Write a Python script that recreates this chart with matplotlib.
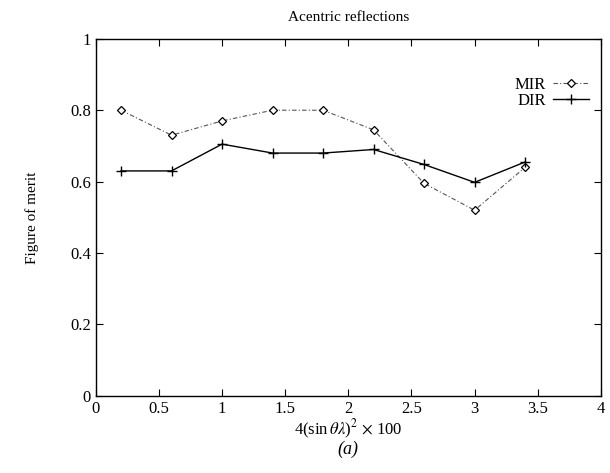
import numpy as np
import matplotlib.pyplot as plt

plt.rcParams['font.family'] = ['Liberation Serif', 'DejaVu Serif']
plt.rcParams['mathtext.fontset'] = 'stix'

# Data
x = [0.2, 0.6, 1.0, 1.4, 1.8, 2.2, 2.6, 3.0, 3.4]
mir = [0.80, 0.73, 0.77, 0.80, 0.80, 0.745, 0.595, 0.52, 0.64]
dir_ = [0.63, 0.63, 0.705, 0.68, 0.68, 0.69, 0.648, 0.598, 0.655]
xticks = [0, 0.5, 1, 1.5, 2, 2.5, 3, 3.5, 4]
xticklabels = ['0', '0.5', '1', '1.5', '2', '2.5', '3', '3.5', '4']
yticks = [0, 0.2, 0.4, 0.6, 0.8, 1]
yticklabels = ['0', '0.2', '0.4', '0.6', '0.8', '1']

fig = plt.figure(figsize=(6.1, 4.73), dpi=100)
ax = fig.add_axes([0.157, 0.163, 0.828, 0.755])

ax.plot(x, mir, color='#555555', lw=0.8, ls=(0, (4, 2, 1, 2)),
        marker='D', ms=4, mfc='white', mec='black', mew=0.9, label='MIR')
ax.plot(x, dir_, color='black', lw=1.0,
        marker='+', ms=7, mew=1.0, label='DIR')

ax.set_xlim(0, 4)
ax.set_ylim(0, 1)
ax.set_xticks(xticks)
ax.set_xticklabels(xticklabels)
ax.set_yticks(yticks)
ax.set_yticklabels(yticklabels)
ax.tick_params(direction='in', top=True, right=True, length=5, labelsize=12)
for s in ax.spines.values():
    s.set_linewidth(1.0)

ax.set_title('Acentric reflections', fontsize=11, pad=13)
ax.set_xlabel(r'4(sin$\,\theta\lambda$)$^2$ $\times$ 100', fontsize=12, labelpad=1)
ax.set_ylabel('Figure of merit', fontsize=11)
ax.yaxis.set_label_coords(-0.112, 0.5)

leg = ax.legend(loc='upper right', bbox_to_anchor=(1.0, 0.925), frameon=False,
                markerfirst=False, fontsize=12, handlelength=2.2,
                borderaxespad=0.3, labelspacing=0.0, handletextpad=0.4)

fig.text(0.571, 0.04, '(a)', fontsize=13, style='italic', ha='center')

fig.savefig('out.png', dpi=100)
